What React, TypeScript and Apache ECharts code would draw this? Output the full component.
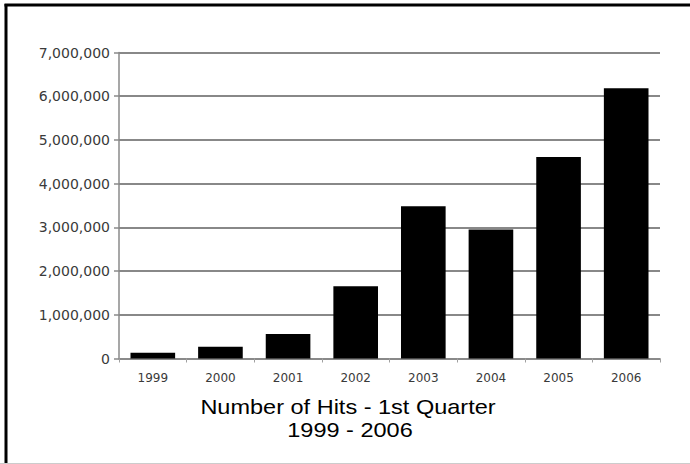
import React, { useEffect, useRef } from "react";
import * as echarts from "echarts";

// Quarterly hit counts per year
const years = ["1999", "2000", "2001", "2002", "2003", "2004", "2005", "2006"];
const hits = [130000, 270000, 560000, 1650000, 3480000, 2950000, 4610000, 6180000];
const yTicks = { min: 0, max: 7000000, interval: 1000000 };
const titleLines = ["Number of Hits - 1st Quarter", "1999 - 2006"];

const formatThousands = (v: number) =>
  String(v).replace(/\B(?=(\d{3})+(?!\d))/g, ",");

const axisFont = "'DejaVu Sans', Verdana, sans-serif";
const titleFont = "21px 'Liberation Sans', Arial, sans-serif";

export default function App() {
  const ref = useRef<HTMLDivElement>(null);

  useEffect(() => {
    if (!ref.current) return;
    const chart = echarts.init(ref.current, undefined, { renderer: "svg" });
    chart.setOption({
      animation: false,
      backgroundColor: "#ffffff",
      grid: { left: 119, right: 30, top: 52.5, bottom: 105.5 },
      xAxis: {
        type: "category",
        data: years,
        axisLine: { lineStyle: { color: "#8a8a8a", width: 1.5 } },
        axisTick: {
          show: true,
          alignWithLabel: false,
          length: 4,
          lineStyle: { color: "#a0a0a0" },
        },
        axisLabel: {
          margin: 13,
          color: "#3a3a3a",
          fontFamily: axisFont,
          fontSize: 12,
        },
      },
      yAxis: {
        type: "value",
        min: yTicks.min,
        max: yTicks.max,
        interval: yTicks.interval,
        axisLine: { show: true, lineStyle: { color: "#8a8a8a", width: 1.5 } },
        axisTick: {
          show: true,
          length: 5,
          lineStyle: { color: "#8a8a8a", width: 1.5 },
        },
        axisLabel: {
          margin: 9,
          color: "#3a3a3a",
          fontFamily: axisFont,
          fontSize: 14,
          formatter: (v: number) => formatThousands(v),
        },
        splitLine: { lineStyle: { color: "#606060", width: 1.5 } },
      },
      series: [
        {
          type: "bar",
          data: hits,
          barCategoryGap: "34%",
          itemStyle: { color: "#000000" },
        },
      ],
      graphic: [
        {
          type: "line",
          shape: { x1: 6, y1: 4, x2: 6, y2: 464 },
          style: { stroke: "#000", lineWidth: 3 },
        },
        {
          type: "line",
          shape: { x1: 4.5, y1: 5, x2: 690, y2: 5 },
          style: { stroke: "#000", lineWidth: 3 },
        },
        {
          type: "line",
          shape: { x1: 0, y1: 463.5, x2: 690, y2: 463.5 },
          style: { stroke: "#cccccc", lineWidth: 1 },
        },
        {
          type: "text",
          x: 348,
          y: 407,
          scaleX: 1.12,
          style: {
            text: titleLines[0],
            font: titleFont,
            fill: "#000",
            textAlign: "center",
            textVerticalAlign: "middle",
          },
        },
        {
          type: "text",
          x: 350,
          y: 430,
          scaleX: 1.12,
          style: {
            text: titleLines[1],
            font: titleFont,
            fill: "#000",
            textAlign: "center",
            textVerticalAlign: "middle",
          },
        },
      ],
    });
    return () => chart.dispose();
  }, []);

  return (
    <div
      ref={ref}
      style={{ position: "fixed", left: 0, top: 0, width: 690, height: 464 }}
    />
  );
}
